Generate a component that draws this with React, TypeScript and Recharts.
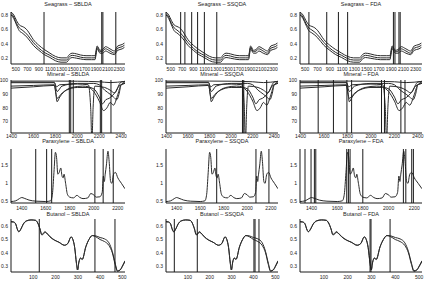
import React from "react";
import { LineChart, Line, XAxis, YAxis, ReferenceLine } from "recharts";

// Seagrass reflectance, three spectra
const seagrassNm = [415, 463, 512, 560, 609, 657, 705, 754, 802, 899, 996, 1093, 1189, 1286, 1383, 1431, 1480, 1557, 1625, 1722, 1819, 1877, 1915, 1964, 2012, 2061, 2138, 2215, 2274, 2351, 2390];
const seagrassHigh = [0.84, 0.8, 0.72, 0.66, 0.64, 0.62, 0.58, 0.52, 0.46, 0.38, 0.32, 0.27, 0.225, 0.205, 0.205, 0.25, 0.27, 0.26, 0.245, 0.235, 0.235, 0.235, 0.37, 0.31, 0.32, 0.36, 0.33, 0.3, 0.37, 0.39, 0.41];
const seagrassMid = [0.82, 0.77, 0.68, 0.62, 0.59, 0.56, 0.52, 0.47, 0.42, 0.34, 0.28, 0.24, 0.195, 0.175, 0.175, 0.22, 0.24, 0.23, 0.215, 0.205, 0.205, 0.205, 0.35, 0.29, 0.3, 0.33, 0.3, 0.27, 0.34, 0.36, 0.38];
const seagrassLow = [0.8, 0.75, 0.66, 0.58, 0.55, 0.52, 0.48, 0.43, 0.38, 0.31, 0.25, 0.21, 0.165, 0.145, 0.145, 0.19, 0.21, 0.2, 0.19, 0.18, 0.18, 0.18, 0.33, 0.27, 0.27, 0.3, 0.27, 0.25, 0.31, 0.33, 0.35];

// Mineral spectra (% reflectance)
const mineralTopNm = [1395, 1800, 2000, 2200, 2300, 2435];
const mineralTop = [99.7, 99.7, 99.6, 99.2, 98.6, 99.5];
const mineralANm = [1395, 1790, 1810, 1840, 2000, 2100, 2122, 2133, 2144, 2160, 2250, 2300, 2340, 2380, 2435];
const mineralA = [98.5, 98.5, 95.5, 97, 97.5, 97, 80, 55, 80, 96, 95, 93, 91, 96, 98];
const mineralBNm = [1395, 1600, 1790, 1805, 1815, 1840, 1900, 2000, 2100, 2150, 2200, 2240, 2270, 2300, 2330, 2370, 2400, 2435];
const mineralB = [96, 96.5, 97, 90, 84.5, 88, 93, 95, 95, 92, 85, 78, 80, 84, 82, 90, 97, 98];
const mineralCNm = [1395, 1600, 1790, 1815, 1850, 1950, 2050, 2150, 2200, 2230, 2260, 2290, 2320, 2350, 2400, 2435];
const mineralC = [94.5, 95.5, 96.5, 87, 90, 95, 96, 94, 88, 83, 86, 87, 89, 92, 99, 99.5];
const mineralDNm = [1395, 1790, 1815, 1860, 2000, 2150, 2200, 2250, 2300, 2330, 2360, 2380, 2400, 2435];
const mineralD = [99, 98.8, 92, 96, 98, 98, 97, 93, 90, 88, 86, 90, 97, 99];

// Paraxylene absorbance
const paraxyleneNm = [1310, 1350, 1380, 1400, 1420, 1460, 1520, 1600, 1640, 1655, 1668, 1680, 1690, 1700, 1712, 1725, 1735, 1745, 1752, 1765, 1780, 1800, 1830, 1860, 1880, 1910, 1950, 1975, 2000, 2020, 2050, 2070, 2080, 2088, 2095, 2105, 2118, 2128, 2140, 2150, 2165, 2180, 2200, 2230, 2260];
const paraxyleneAbs = [0.5, 0.52, 0.58, 0.61, 0.59, 0.54, 0.51, 0.5, 0.52, 0.7, 1.3, 1.85, 1.7, 1.25, 1.3, 1.42, 1.2, 1.15, 1.25, 1.0, 0.7, 0.62, 0.6, 0.67, 0.62, 0.58, 0.6, 0.72, 0.68, 0.62, 0.63, 0.75, 1.2, 1.05, 1.25, 1.5, 1.88, 1.6, 1.05, 1.0, 1.25, 1.3, 1.15, 1.0, 0.85];

// Butanol, two spectra over channel index
const butanolIdx = [0, 10, 20, 30, 35, 45, 55, 70, 90, 110, 120, 130, 138, 145, 152, 160, 175, 195, 215, 240, 255, 270, 278, 286, 294, 299, 305, 312, 320, 336, 350, 365, 380, 400, 420, 440, 455, 468, 478, 490, 500, 512];
const butanolA = [0.633, 0.632, 0.62, 0.57, 0.558, 0.58, 0.615, 0.64, 0.648, 0.645, 0.625, 0.58, 0.535, 0.54, 0.555, 0.548, 0.52, 0.495, 0.48, 0.457, 0.47, 0.52, 0.5, 0.44, 0.32, 0.27, 0.33, 0.36, 0.35, 0.445, 0.5, 0.53, 0.528, 0.515, 0.505, 0.475, 0.41, 0.32, 0.265, 0.27, 0.3, 0.34];
const butanolB = [0.636, 0.634, 0.622, 0.572, 0.56, 0.582, 0.617, 0.642, 0.648, 0.645, 0.625, 0.582, 0.54, 0.545, 0.56, 0.55, 0.522, 0.497, 0.48, 0.457, 0.47, 0.52, 0.5, 0.44, 0.32, 0.27, 0.33, 0.36, 0.35, 0.445, 0.5, 0.53, 0.522, 0.5, 0.485, 0.455, 0.4, 0.31, 0.26, 0.27, 0.295, 0.335];

// selected wavelengths per method
const seagrassSBLDA = [990, 1995, 2015, 2240];
const seagrassSSQDA = [675, 750, 870, 975, 1095, 1315];
const seagrassFDA = [560, 850, 1040, 1190, 1935, 1960, 2025, 2045];
const mineralSBLDA = [1927, 1940, 1963, 2210, 2222, 2307];
const mineralSSQDA = [2105, 2117, 2330];
const mineralFDA = [1550, 1680, 1795, 1835, 2090, 2115, 2255, 2290];
const paraxyleneSBLDA = [1516, 1607, 1649, 2009, 2078, 2162];
const paraxyleneSSQDA = [1740, 2073, 2183];
const paraxyleneFDA = [1349, 1396, 1422, 1433, 1674, 1687, 1700, 1799, 2115, 2134, 2180, 2193];
const butanolSBLDA = [127, 377, 467];
const butanolSSQDA = [38, 143, 402, 407, 425];
const butanolFDA = [294, 298, 378];

const methods = ["SBLDA", "SSQDA", "FDA"];
const seagrassTicks = [500, 700, 900, 1100, 1300, 1500, 1700, 1900, 2100, 2300];
const mineralTicks = [1400, 1600, 1800, 2000, 2200, 2400];
const paraxyleneTicks = [1400, 1600, 1800, 2000, 2200];
const butanolTicks = [100, 200, 300, 400, 500];

const ink = "#1a1a1a";
const font = "'Liberation Sans', Arial, sans-serif";
const YW = 16;
const PAD = 2;
const XH = 12;

type Curve = { x: number[]; y: number[] };

const cols: [number, number][] = [[11, 125], [166, 278], [300, 422]];

const rowsCfg = [
  {
    name: "Seagrass", top: 12, bottom: 64, titleY: 4.3, gap: 2,
    xDomain: [415, 2400], yDomain: [0.12, 0.84], xTicks: seagrassTicks, yTicks: [0.2, 0.4, 0.6, 0.8],
    curves: [
      { x: seagrassNm, y: seagrassHigh },
      { x: seagrassNm, y: seagrassMid },
      { x: seagrassNm, y: seagrassLow },
    ],
    marks: [seagrassSBLDA, seagrassSSQDA, seagrassFDA],
  },
  {
    name: "Mineral", top: 80, bottom: 133, titleY: 73.5, gap: 0,
    xDomain: [1395, 2435], yDomain: [61.5, 100.5], xTicks: mineralTicks, yTicks: [70, 80, 90, 100],
    curves: [
      { x: mineralTopNm, y: mineralTop },
      { x: mineralANm, y: mineralA },
      { x: mineralBNm, y: mineralB },
      { x: mineralCNm, y: mineralC },
      { x: mineralDNm, y: mineralD },
    ],
    marks: [mineralSBLDA, mineralSSQDA, mineralFDA],
  },
  {
    name: "Paraxylene", top: 149, bottom: 203, titleY: 140.7, gap: 2,
    xDomain: [1310, 2260], yDomain: [0.46, 1.94], xTicks: paraxyleneTicks, yTicks: [0.5, 1, 1.5],
    curves: [{ x: paraxyleneNm, y: paraxyleneAbs }],
    marks: [paraxyleneSBLDA, paraxyleneSSQDA, paraxyleneFDA],
  },
  {
    name: "Butanol", top: 219, bottom: 272, titleY: 213.5, gap: 2,
    xDomain: [0, 512], yDomain: [0.255, 0.655], xTicks: butanolTicks, yTicks: [0.3, 0.4, 0.5, 0.6],
    curves: [
      { x: butanolIdx, y: butanolA },
      { x: butanolIdx, y: butanolB },
    ],
    marks: [butanolSBLDA, butanolSSQDA, butanolFDA],
  },
];

function Panel(props: {
  title: string; l: number; r: number; t: number; b: number; titleY: number; gap: number;
  xDomain: number[]; yDomain: number[]; xTicks: number[]; yTicks: number[];
  curves: Curve[]; marks: number[];
}) {
  const { l, r, t, b } = props;
  const w = r - l;
  const h = b - t;
  const tickStyle = { fontSize: 5, fill: ink, fontFamily: font };
  return (
    <>
      <div style={{ position: "absolute", left: l - YW, top: t - PAD }}>
        <LineChart width={YW + w + PAD} height={PAD + h + XH} margin={{ top: PAD, right: PAD, bottom: 0, left: 0 }}>
          <XAxis
            type="number" dataKey="x" domain={props.xDomain} ticks={props.xTicks} interval={0}
            allowDataOverflow height={XH} tickLine={false} tickSize={1} tickMargin={props.gap}
            axisLine={{ stroke: ink }} tick={tickStyle}
          />
          <XAxis
            xAxisId="top" orientation="top" type="number" domain={props.xDomain} height={0}
            tick={false} tickLine={false} axisLine={{ stroke: ink }}
          />
          <YAxis
            type="number" domain={props.yDomain} ticks={props.yTicks} interval={0} allowDataOverflow
            width={YW} tickLine={false} tickSize={1} tickMargin={2} axisLine={{ stroke: ink }} tick={tickStyle}
          />
          <YAxis
            yAxisId="right" orientation="right" type="number" domain={props.yDomain} width={0}
            tick={false} tickLine={false} axisLine={{ stroke: ink }}
          />
          {props.curves.map((c, i) => (
            <Line
              key={i}
              data={c.x.map((x, j) => ({ x, y: c.y[j] }))}
              dataKey="y"
              type="monotone"
              stroke="#2b2b2b"
              strokeWidth={1}
              dot={false}
              isAnimationActive={false}
            />
          ))}
          {props.marks.map((v, i) => (
            <ReferenceLine key={"m" + i} x={v} stroke={ink} strokeWidth={1} ifOverflow="hidden" />
          ))}
        </LineChart>
      </div>
      <div
        style={{
          position: "absolute", left: l - 20, width: w + 40, top: props.titleY - 3, height: 6,
          lineHeight: "6px", fontSize: 5.5, textAlign: "center", whiteSpace: "nowrap",
          fontFamily: font, color: ink,
        }}
      >
        {props.title}
      </div>
    </>
  );
}

export default function App() {
  return (
    <div style={{ position: "absolute", left: 0, top: 0, width: 430, height: 291, background: "#fff", overflow: "hidden" }}>
      {rowsCfg.map((row, ri) =>
        cols.map(([l, r], ci) => (
          <Panel
            key={ri + "-" + ci}
            title={`${row.name} \u2013 ${methods[ci]}`}
            l={l} r={r} t={row.top} b={row.bottom} titleY={row.titleY} gap={row.gap}
            xDomain={row.xDomain} yDomain={row.yDomain} xTicks={row.xTicks} yTicks={row.yTicks}
            curves={row.curves} marks={row.marks[ci]}
          />
        ))
      )}
    </div>
  );
}
